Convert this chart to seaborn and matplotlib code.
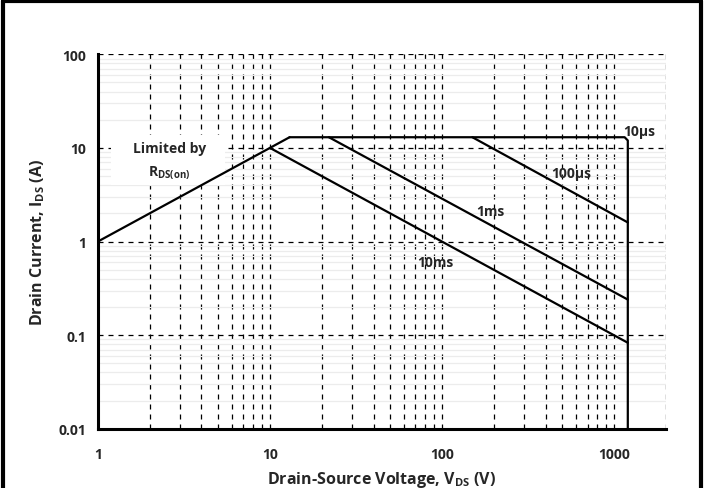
import numpy as np
import pandas as pd
import seaborn as sns
import matplotlib.pyplot as plt
from matplotlib.lines import Line2D
from matplotlib.patches import Rectangle
from matplotlib.ticker import LogLocator, NullFormatter, FixedLocator, FixedFormatter

# safe operating area curves (V_DS in volts, I_DS in amps)
rds_v = [1, 13]
rds_i = [1, 13]
us10_v = [13, 1150, 1200, 1200]
us10_i = [13, 13, 12, 0.01]
us100_v = [150, 1200]
us100_i = [13, 1.6]
ms1_v = [22, 1200]
ms1_i = [13, 0.24]
ms10_v = [10, 1200]
ms10_i = [10, 0.083]

x_ticks = [1, 10, 100, 1000]
x_labels = ['1', '10', '100', '1000']
y_ticks = [0.01, 0.1, 1, 10, 100]
y_labels = ['0.01', '0.1', '1', '10', '100']

sns.set_style('white')
plt.rcParams['font.family'] = ['Open Sans', 'DejaVu Sans']
plt.rcParams['mathtext.fontset'] = 'custom'
plt.rcParams['mathtext.rm'] = 'Open Sans:bold'

curves = {
    'rds': (rds_v, rds_i),
    '10us': (us10_v, us10_i),
    '100us': (us100_v, us100_i),
    '1ms': (ms1_v, ms1_i),
    '10ms': (ms10_v, ms10_i),
}

fig = plt.figure(figsize=(7.04, 4.89), dpi=100)
ax = fig.add_axes([0.139, 0.121, 0.807, 0.766])
ax.set_xscale('log')
ax.set_yscale('log')

for name, (v, i) in curves.items():
    df = pd.DataFrame({'V': v, 'I': i})
    sns.lineplot(data=df, x='V', y='I', ax=ax, color='black', linewidth=1.6,
                 sort=False, estimator=None, zorder=3)

ax.set_xlim(1, 2000)
ax.set_ylim(0.01, 100)

# grid: vertical dashed at every tick, horizontal dashed at decades, light solid at minors
ax.xaxis.set_major_locator(FixedLocator(x_ticks))
ax.xaxis.set_major_formatter(FixedFormatter(x_labels))
ax.xaxis.set_minor_locator(LogLocator(base=10, subs=np.arange(2, 10)))
ax.xaxis.set_minor_formatter(NullFormatter())
ax.yaxis.set_major_locator(FixedLocator(y_ticks))
ax.yaxis.set_major_formatter(FixedFormatter(y_labels))
ax.yaxis.set_minor_locator(LogLocator(base=10, subs=np.arange(2, 10)))
ax.yaxis.set_minor_formatter(NullFormatter())

ax.grid(which='both', axis='x', color='black', linestyle=(0, (4, 4)), linewidth=0.9)
ax.grid(which='major', axis='y', color='black', linestyle=(0, (4, 4)), linewidth=0.9)
ax.grid(which='minor', axis='y', color='#ececec', linestyle='-', linewidth=0.9)
ax.set_axisbelow(True)

for side in ['top', 'right']:
    ax.spines[side].set_visible(False)
for side in ['left', 'bottom']:
    ax.spines[side].set_linewidth(2.2)
    ax.spines[side].set_color('black')

ax.tick_params(which='major', direction='out', length=5, width=2, color='black',
               labelsize=10)
ax.tick_params(which='minor', length=0)
for lab in ax.get_xticklabels() + ax.get_yticklabels():
    lab.set_fontweight('bold')
ax.tick_params(axis='x', pad=8)

ax.set_xlabel(r'Drain-Source Voltage, V$_{\mathrm{DS}}$ (V)', fontsize=11.5,
              fontweight='bold', labelpad=6)
ax.set_ylabel(r'Drain Current, I$_{\mathrm{DS}}$ (A)', fontsize=11.5,
              fontweight='bold', labelpad=8)

# white box behind the R_DS(on) annotation
ax.add_patch(Rectangle((1.2, 4.0), 5.5 - 1.2, 13.7 - 4.0, facecolor='white',
                       edgecolor='none', zorder=1.5))

txt = dict(fontsize=10, fontweight='bold', ha='center', va='center', zorder=4)
ax.text(2.6, 10, 'Limited by', **txt)
ax.text(2.6, 5.6, r'R$_{\mathrm{DS(on)}}$', **txt)
ax.text(1400, 15.2, '10µs', **txt)
ax.text(560, 5.4, '100µs', **txt)
ax.text(190, 2.1, '1ms', **txt)
ax.text(92, 0.6, '10ms', **txt)

# outer frame like the original chart border
for xs, ys in [([0.004, 0.004], [0, 0.996]), ([0.004, 0.996], [0.996, 0.996]),
               ([0.996, 0.996], [0, 0.996])]:
    fig.add_artist(Line2D(xs, ys, color='black', linewidth=3, transform=fig.transFigure))

fig.savefig('out.png', dpi=100)
